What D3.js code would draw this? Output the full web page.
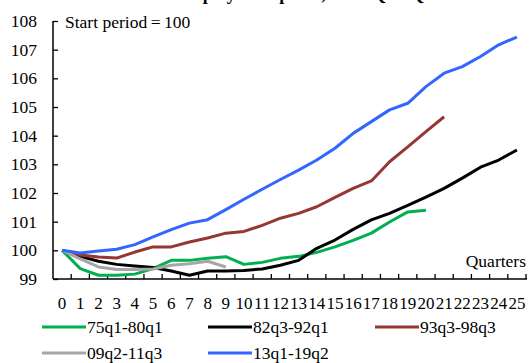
<!DOCTYPE html>
<html lang="en">
<head>
<script src="https://d3js.org/d3.v7.min.js"></script>
<style>
  body { margin: 0; background: #fff; }
  svg text { fill: #000; }
  .axis path, .axis line { stroke: #000; }
</style>
</head>
<body>
<svg id="chart" width="529" height="363"></svg>
<script>
// quarters since start of each episode
const quarters = d3.range(0, 26);
const seriesNames = ["75q1-80q1", "82q3-92q1", "93q3-98q3", "09q2-11q3", "13q1-19q2"];
const seriesColors = ["#00b050", "#000000", "#953735", "#a6a6a6", "#3366ff"];

const s75 = [100, 99.36, 99.13, 99.13, 99.17, 99.36, 99.65, 99.65, 99.72, 99.78, 99.51,
             99.58, 99.72, 99.79, 99.93, 100.12, 100.35, 100.6, 100.99, 101.34, 101.4];
const s82 = [100, 99.79, 99.62, 99.51, 99.45, 99.4, 99.28, 99.13, 99.28, 99.28, 99.3,
             99.35, 99.48, 99.65, 100.07, 100.36, 100.73, 101.06, 101.29, 101.57, 101.86,
             102.16, 102.52, 102.9, 103.15, 103.5];
const s93 = [100, 99.84, 99.77, 99.73, 99.94, 100.12, 100.12, 100.29, 100.43, 100.6, 100.66,
             100.87, 101.12, 101.29, 101.52, 101.85, 102.16, 102.42, 103.09, 103.61, 104.14, 104.66];
const s09 = [100, 99.7, 99.42, 99.33, 99.33, 99.35, 99.48, 99.53, 99.62, 99.42];
const s13 = [100, 99.91, 99.98, 100.04, 100.2, 100.47, 100.72, 100.95, 101.07, 101.42, 101.78,
             102.13, 102.47, 102.8, 103.15, 103.56, 104.08, 104.49, 104.9, 105.13, 105.71,
             106.18, 106.41, 106.76, 107.17, 107.44];
const yTicks = d3.range(99, 109);

const allSeries = [s75, s82, s93, s09, s13];

const svg = d3.select("#chart");
const mLeft = 53, mRight = 526, mTop = 21, mBottom = 279;
const serif = "'Liberation Serif'";

const x = d3.scaleBand().domain(quarters).range([mLeft, mRight]);
const y = d3.scaleLinear().domain([99, 108]).range([mBottom, mTop]);
const cx = i => x(i) + x.bandwidth() / 2;

// title, mostly above the visible area as in the original
svg.append("text")
   .attr("x", 300).attr("y", 0)
   .attr("text-anchor", "middle")
   .style("font-family", serif)
   .style("font-size", "18px").style("font-weight", "bold")
   .text("Employment paths, from Q to Q");

// y axis
const yAxis = svg.append("g").attr("class", "axis")
   .attr("transform", `translate(${mLeft},0)`)
   .call(d3.axisRight(y).tickValues(yTicks).tickSize(5).tickFormat(""));
yAxis.select(".domain").attr("d", `M0,${mTop}V${mBottom}`).attr("stroke-width", 1.5);
yAxis.selectAll("line").attr("stroke-width", 1.3);
svg.append("g").selectAll("text.ylab").data(yTicks).join("text")
   .attr("class", "ylab")
   .attr("x", 37).attr("y", d => y(d) + 6)
   .attr("text-anchor", "end")
   .style("font-family", serif)
   .style("font-size", "17.5px")
   .text(d => d);

// x axis: ticks between categories
const xg = svg.append("g").attr("class", "axis");
xg.append("line").attr("x1", mLeft).attr("x2", mRight + 1)
  .attr("y1", mBottom).attr("y2", mBottom).attr("stroke-width", 1.5);
xg.selectAll("line.tk").data(quarters.slice(1).concat([26])).join("line")
  .attr("class", "tk")
  .attr("x1", d => mLeft + d * x.step()).attr("x2", d => mLeft + d * x.step())
  .attr("y1", mBottom).attr("y2", mBottom - 5).attr("stroke-width", 1.3);
xg.selectAll("text").data(quarters).join("text")
  .attr("x", d => cx(d)).attr("y", 309)
  .attr("text-anchor", "middle")
  .style("font-family", serif)
  .style("font-size", "17px")
  .text(d => d);

// lines
const line = d3.line().x((d, i) => cx(i)).y(d => y(d));
svg.append("g").selectAll("path.series").data(allSeries).join("path")
   .attr("class", "series")
   .attr("fill", "none")
   .attr("stroke", (d, i) => seriesColors[i])
   .attr("stroke-width", 3)
   .attr("stroke-linejoin", "round")
   .attr("d", line);

// annotations
svg.append("text").attr("x", 65).attr("y", 28)
   .style("font-family", serif)
   .style("font-size", "17.5px").text("Start period\u2009=\u2009100");
svg.append("text").attr("x", 526).attr("y", 267)
   .attr("text-anchor", "end")
   .style("font-family", serif)
   .style("font-size", "17.5px").text("Quarters");

// legend
const legPos = [[42, 327], [208, 327], [375, 327], [42, 353], [208, 353]];
const leg = svg.append("g").selectAll("g").data(seriesNames).join("g")
   .attr("transform", (d, i) => `translate(${legPos[i][0]},${legPos[i][1]})`);
leg.append("line").attr("x1", 0).attr("x2", 44)
   .attr("stroke", (d, i) => seriesColors[i]).attr("stroke-width", 3);
leg.append("text").attr("x", 45).attr("y", 6)
   .style("font-family", serif)
   .style("font-size", "17.5px").text(d => d);
</script>
</body>
</html>
